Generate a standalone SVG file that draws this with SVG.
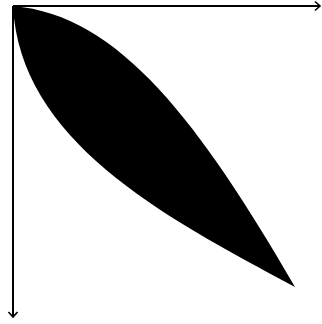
<svg xmlns="http://www.w3.org/2000/svg" width="322" height="324" viewBox="0 0 322 324">
<style>
.axis{fill:none;stroke:#000;stroke-width:2}
.head{fill:none;stroke:#000;stroke-width:1.6}
</style>
<rect width="322" height="324" fill="#fff"/>
<g id="leaf">
<path d="M13,6 C120,15 200,124 295,287 C160,215 20,140 13,6 Z" fill="#000"/>
</g>
<g id="axes">
<line class="axis" x1="13" y1="6" x2="320" y2="6"/>
<polyline class="head" points="315,1.5 320,6 315,10.5"/>
<line class="axis" x1="13" y1="6" x2="13" y2="317"/>
<polyline class="head" points="8.5,312 13,317 17.5,312"/>
</g>
</svg>
